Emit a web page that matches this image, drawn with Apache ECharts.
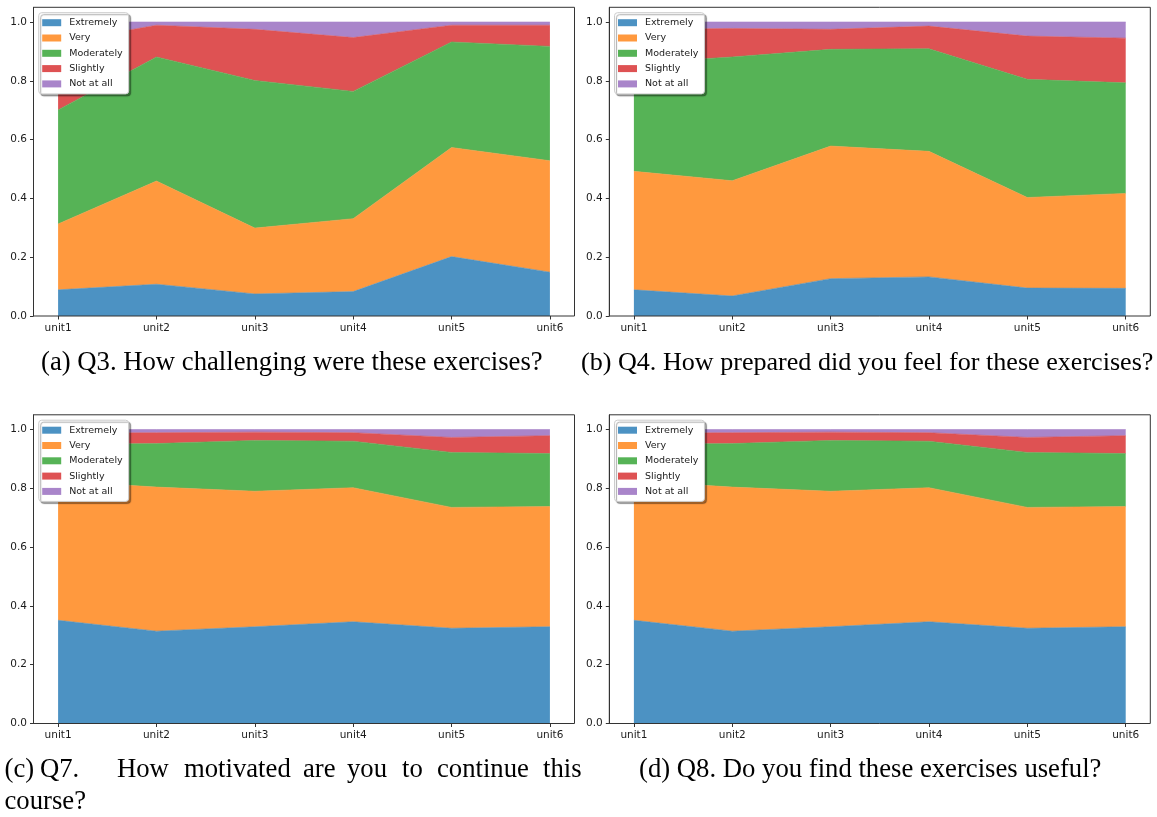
<!DOCTYPE html>
<html>
<head>
<meta charset="utf-8">
<script src="https://cdn.jsdelivr.net/npm/echarts@6/dist/echarts.min.js"></script>
<style>
html,body{margin:0;padding:0;background:#fff;}
#main{width:1157px;height:817px;}
</style>
</head>
<body>
<div id="main"></div>
<script>
// ---- data ----
const units = ['unit1', 'unit2', 'unit3', 'unit4', 'unit5', 'unit6'];
const levels = ['Extremely', 'Very', 'Moderately', 'Slightly', 'Not at all'];
const yTicks = [0, 0.2, 0.4, 0.6, 0.8, 1.0];

// (a) Q3. How challenging were these exercises?
const q3Extremely = [0.089, 0.108, 0.075, 0.083, 0.202, 0.149];
const q3Very      = [0.224, 0.351, 0.224, 0.248, 0.371, 0.379];
const q3Moderately= [0.388, 0.422, 0.502, 0.433, 0.359, 0.389];
const q3Slightly  = [0.229, 0.108, 0.174, 0.183, 0.057, 0.072];
const q3NotAtAll  = [0.070, 0.011, 0.025, 0.053, 0.011, 0.011];

// (b) Q4. How prepared did you feel for these exercises?
const q4Extremely = [0.089, 0.068, 0.127, 0.133, 0.095, 0.094];
const q4Very      = [0.403, 0.392, 0.451, 0.427, 0.308, 0.323];
const q4Moderately= [0.368, 0.421, 0.329, 0.349, 0.402, 0.376];
const q4Slightly  = [0.115, 0.097, 0.068, 0.077, 0.147, 0.152];
const q4NotAtAll  = [0.025, 0.022, 0.025, 0.014, 0.048, 0.055];

// (c) Q7. How motivated are you to continue this course?
const q7Extremely = [0.351, 0.314, 0.329, 0.346, 0.324, 0.329];
const q7Very      = [0.474, 0.490, 0.461, 0.456, 0.411, 0.409];
const q7Moderately= [0.125, 0.148, 0.173, 0.158, 0.187, 0.180];
const q7Slightly  = [0.038, 0.037, 0.028, 0.029, 0.051, 0.061];
const q7NotAtAll  = [0.012, 0.011, 0.009, 0.011, 0.027, 0.021];

// (d) Q8. Do you find these exercises useful?
const q8Extremely = [0.351, 0.314, 0.329, 0.346, 0.324, 0.329];
const q8Very      = [0.474, 0.490, 0.461, 0.456, 0.411, 0.409];
const q8Moderately= [0.125, 0.148, 0.173, 0.158, 0.187, 0.180];
const q8Slightly  = [0.038, 0.037, 0.028, 0.029, 0.051, 0.061];
const q8NotAtAll  = [0.012, 0.011, 0.009, 0.011, 0.027, 0.021];

const panels = [
  [q3Extremely, q3Very, q3Moderately, q3Slightly, q3NotAtAll],
  [q4Extremely, q4Very, q4Moderately, q4Slightly, q4NotAtAll],
  [q7Extremely, q7Very, q7Moderately, q7Slightly, q7NotAtAll],
  [q8Extremely, q8Very, q8Moderately, q8Slightly, q8NotAtAll]
];

// ---- layout / style ----
const colors = ['#4c92c3', '#ff993e', '#56b356', '#de5253', '#a985ca'];
const frames = [
  {left: 33.5, top: 7.3, width: 541, height: 308.7},
  {left: 609.3, top: 7.3, width: 541, height: 308.7},
  {left: 33.5, top: 414.8, width: 541, height: 308.7},
  {left: 609.3, top: 414.8, width: 541, height: 308.7}
];
const tickFont = {fontFamily: 'DejaVu Sans', fontSize: 10.5, color: '#1a1a1a'};
const tickLine = {color: '#333', width: 1};

const grids = [], xAxes = [], yAxes = [], legends = [], series = [];
frames.forEach((f, pi) => {
  // outer frame grid: spines + y axis
  const outer = grids.length;
  grids.push(Object.assign({show: true, borderColor: '#333', borderWidth: 1, backgroundColor: 'transparent', z: 10}, f));
  xAxes.push({type: 'value', gridIndex: outer, min: 0, max: 1, show: false});
  yAxes.push({
    type: 'value', gridIndex: outer, min: 0, max: 1.05, z: 10,
    axisLine: {show: true, onZero: false, lineStyle: tickLine},
    splitLine: {show: false},
    axisTick: {show: true, length: 3.5, lineStyle: tickLine, customValues: yTicks},
    axisLabel: Object.assign({margin: 6.5, customValues: yTicks, formatter: v => v.toFixed(1)}, tickFont)
  });
  // inner data grid: category x axis inset by matplotlib's 5% margins
  const m = f.width * 0.25 / 5.5;
  const inner = grids.length;
  grids.push({left: f.left + m, top: f.top, width: f.width - 2 * m, height: f.height, show: false});
  xAxes.push({
    type: 'category', gridIndex: inner, data: units, boundaryGap: false, z: 10,
    axisLine: {show: false, onZero: false},
    splitLine: {show: false},
    axisTick: {show: true, length: 3.5, lineStyle: tickLine, alignWithLabel: true},
    axisLabel: Object.assign({margin: 6.5, interval: 0}, tickFont)
  });
  yAxes.push({type: 'value', gridIndex: inner, min: 0, max: 1.05, show: false});

  legends.push({
    orient: 'vertical', left: f.left + 5.2, top: f.top + 5.4,
    data: levels, icon: 'rect', itemWidth: 19, itemHeight: 7, itemGap: 3.3,
    padding: [4, 6, 4, 3.5],
    backgroundColor: '#fff', borderColor: '#cccccc', borderWidth: 1, borderRadius: 3,
    shadowColor: 'rgba(0,0,0,0.35)', shadowBlur: 1, shadowOffsetX: 2, shadowOffsetY: 2,
    textStyle: {fontFamily: 'DejaVu Sans', fontSize: 9.5, lineHeight: 12, color: '#1a1a1a', padding: [0, 0, 0, 3]},
    selectedMode: false, z: 20
  });
  panels[pi].forEach((vals, li) => {
    series.push({
      type: 'line', name: levels[li], xAxisIndex: inner, yAxisIndex: inner,
      stack: 'panel' + pi, symbol: 'none', smooth: false,
      lineStyle: {width: 0.6, color: colors[li]},
      areaStyle: {color: colors[li], opacity: 1},
      itemStyle: {color: colors[li]},
      data: vals,
      animation: false
    });
  });
});

const capFont = {fontFamily: 'Liberation Serif', fontSize: 26.7, fill: '#000'};
const capFontB = Object.assign({}, capFont, {fontSize: 26.1});
const graphics = [
  {type: 'text', x: 41, y: 363, style: Object.assign({text: '(a) Q3. How challenging were these exercises?', verticalAlign: 'middle'}, capFont)},
  {type: 'text', x: 581, y: 363, style: Object.assign({text: '(b) Q4. How prepared did you feel for these exercises?', verticalAlign: 'middle'}, capFontB)},
  {type: 'text', x: 639, y: 770, style: Object.assign({text: '(d) Q8. Do you find these exercises useful?', verticalAlign: 'middle'}, capFont)},
  {type: 'text', x: 4.5, y: 802, style: Object.assign({text: 'course?', verticalAlign: 'middle'}, capFont)}
];
const cWords = [['(c)', 4.5], ['Q7.', 40], ['How', 117], ['motivated', 184], ['are', 303], ['you', 347], ['to', 402], ['continue', 437], ['this', 543]];
cWords.forEach(w => graphics.push({type: 'text', x: w[1], y: 770, style: Object.assign({text: w[0], verticalAlign: 'middle'}, capFont)}));

const chart = echarts.init(document.getElementById('main'), null, {renderer: 'canvas'});
chart.setOption({
  animation: false,
  color: colors,
  grid: grids, xAxis: xAxes, yAxis: yAxes, legend: legends,
  series: series,
  graphic: graphics
});
</script>
</body>
</html>
